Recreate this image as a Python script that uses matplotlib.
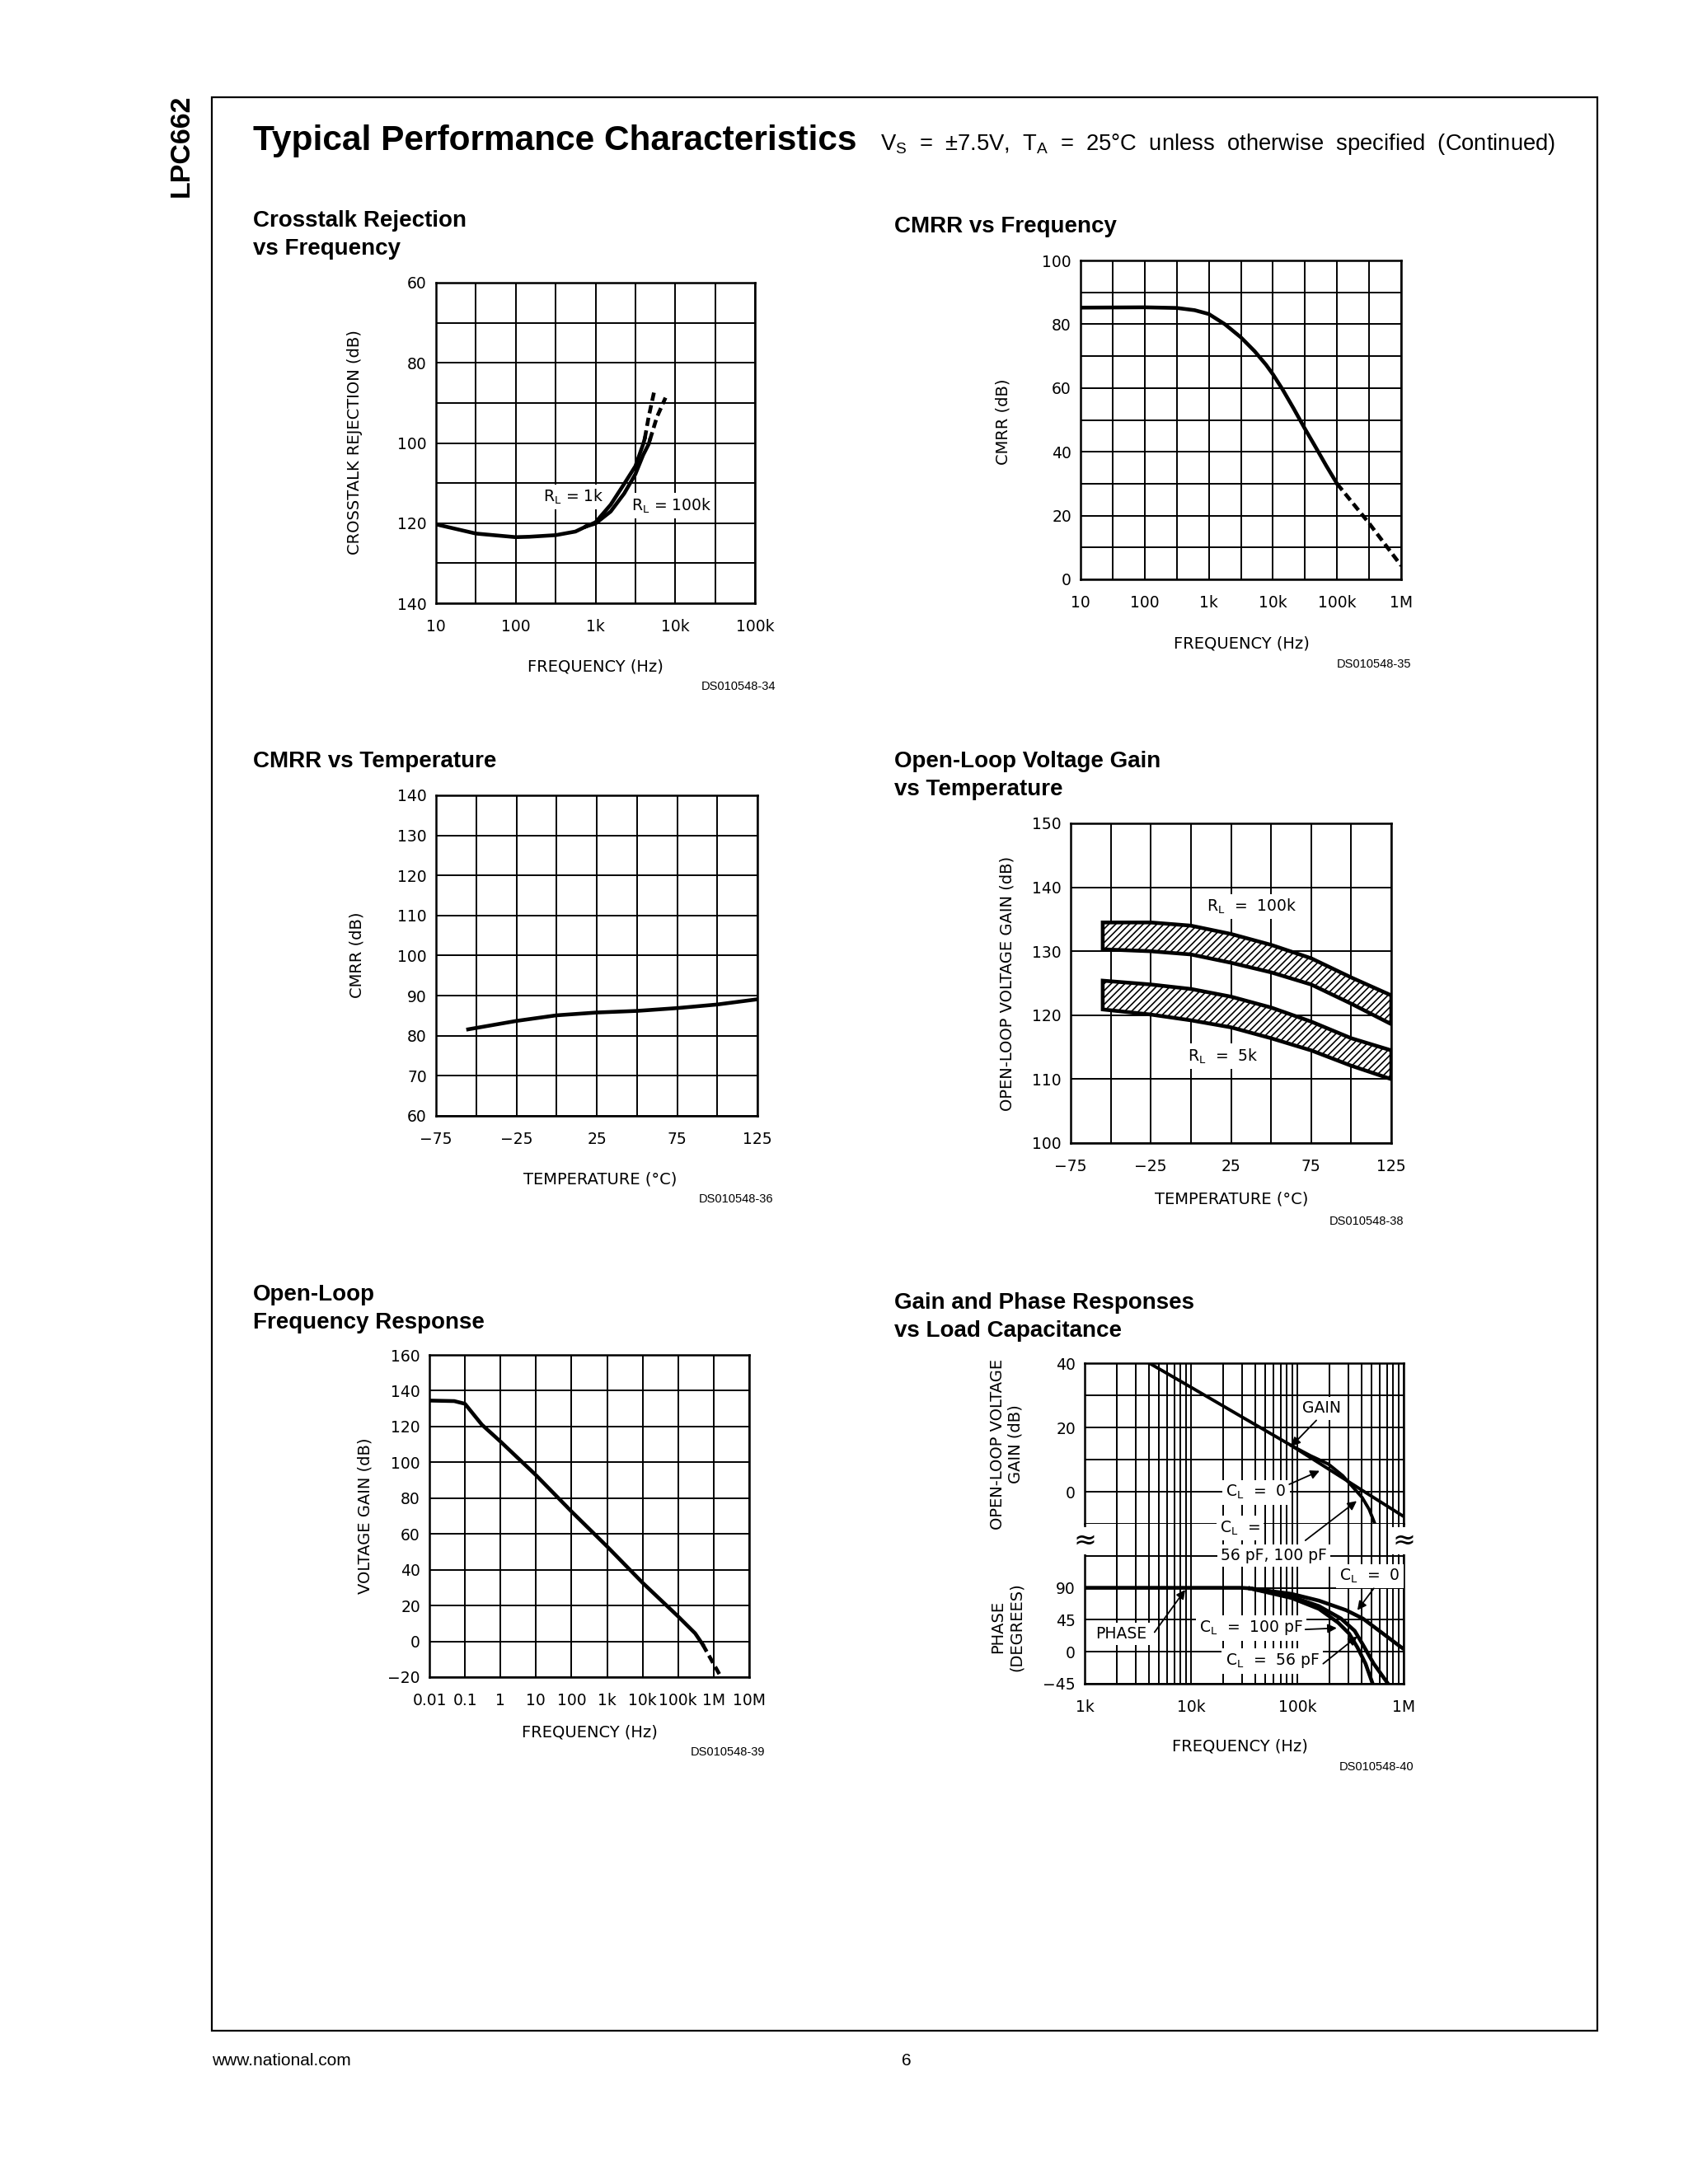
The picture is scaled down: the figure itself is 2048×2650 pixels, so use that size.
import numpy as np
import matplotlib.pyplot as plt
from matplotlib.patches import Rectangle
from matplotlib.ticker import FixedLocator, NullFormatter

plt.rcParams['font.family'] = 'DejaVu Sans'
plt.rcParams['hatch.linewidth'] = 1.2

# ---------------- data ----------------
# Crosstalk rejection vs frequency (dB, axis inverted)
xt_freq_common = [10, 31.6, 100, 148, 316, 560, 766]
xt_rej_common = [120.3, 122.6, 123.5, 123.4, 123.0, 122.1, 120.8]
xt_freq_1k = [766, 1000, 1550, 2290, 3160, 3960, 4150]
xt_rej_1k = [120.8, 119.8, 115.4, 110.2, 105.8, 100.3, 98.9]
xt_freq_1k_ext = [4150, 4640, 5520]
xt_rej_1k_ext = [98.9, 93.5, 86.6]
xt_freq_100k = [766, 1000, 1550, 2290, 3160, 3960, 4640, 4800]
xt_rej_100k = [120.8, 120.1, 117.1, 112.6, 107.8, 103.0, 100.3, 99.3]
xt_freq_100k_ext = [4800, 5900, 7550]
xt_rej_100k_ext = [99.3, 93.5, 88.7]

# CMRR vs frequency
cm_freq = [10, 100, 316, 601, 1000, 1780, 3160, 5200, 7800, 10000, 14100, 21000,
           31600, 45900, 68000, 100000]
cm_db = [85.2, 85.3, 85.1, 84.4, 83.2, 80.0, 75.9, 71.5, 67.3, 64.3, 59.6, 53.6,
         47.2, 41.6, 35.6, 30.0]
cm_freq_ext = [100000, 316000, 1000000]
cm_db_ext = [30.0, 17.6, 4.3]

# CMRR vs temperature
ct_temp = [-55, -25, 0, 25, 50, 75, 100, 125]
ct_db = [81.6, 83.7, 85.1, 85.8, 86.2, 86.9, 87.8, 89.1]

# Open-loop voltage gain vs temperature (bands)
ol_temp = [-55, -25, 0, 25, 50, 75, 100, 125]
ol_100k_hi = [134.5, 134.5, 134.0, 132.7, 131.0, 128.9, 125.9, 123.1]
ol_100k_lo = [130.3, 130.0, 129.5, 128.2, 126.7, 124.8, 121.8, 118.6]
ol_5k_hi = [125.4, 124.8, 124.1, 122.9, 121.2, 119.0, 116.4, 114.5]
ol_5k_lo = [120.9, 120.1, 119.2, 118.1, 116.4, 114.5, 112.1, 110.0]

# Open-loop frequency response
of_freq = [0.01, 0.05, 0.1, 0.3, 1, 10, 100, 1000, 10000, 100000, 300000, 489000]
of_gain = [134.5, 134.2, 132.7, 121.0, 111.6, 92.8, 72.5, 53.0, 32.7, 13.9, 4.5, -1.7]
of_freq_ext = [489000, 1580000]
of_gain_ext = [-1.7, -19.7]

# Gain and phase vs load capacitance
gp_freq_g0 = [4050, 10000, 30000, 87500, 200000, 400000, 1000000]
gp_gain_g0 = [40, 32.5, 23.3, 14.4, 6.9, 0.6, -7.7]
gp_freq_gc = [87500, 133000, 196000, 267000, 336000, 407000, 474000, 532000]
gp_gain_gc = [14.4, 11.2, 8.6, 5.0, 1.3, -1.8, -5.5, -9.7]
gp_freq_flat = [1000, 10000, 30000, 36000]
gp_ph_flat = [90, 90, 90, 89.2]
gp_freq_p0 = [36000, 88000, 160000, 289000, 413000, 590000, 949000, 1000000]
gp_ph_p0 = [89.2, 81.5, 71.9, 58.4, 46.8, 29.5, 6.3, 4.0]
gp_freq_p56 = [36000, 88000, 160000, 257000, 346000, 413000, 523000, 704000]
gp_ph_p56 = [89.2, 77.7, 64.2, 46.8, 29.5, 10.2, -16.8, -43.8]
gp_freq_p100 = [36000, 88000, 160000, 242000, 307000, 367000, 438000, 508000]
gp_ph_p100 = [89.2, 75.7, 60.3, 41.0, 25.6, 6.3, -16.8, -43.8]

# tick labels
xt_ticks = [10, 100, 1e3, 1e4, 1e5]
xt_ticklabels = ['10', '100', '1k', '10k', '100k']
cm_ticks = [10, 100, 1e3, 1e4, 1e5, 1e6]
cm_ticklabels = ['10', '100', '1k', '10k', '100k', '1M']
temp_ticks = [-75, -25, 25, 75, 125]
temp_ticklabels = ['\u221275', '\u221225', '25', '75', '125']
of_ticks = [0.01, 0.1, 1, 10, 100, 1e3, 1e4, 1e5, 1e6, 1e7]
of_ticklabels = ['0.01', '0.1', '1', '10', '100', '1k', '10k', '100k', '1M', '10M']
gp_ticks = [1e3, 1e4, 1e5, 1e6]
gp_ticklabels = ['1k', '10k', '100k', '1M']

# ---------------- page ----------------
W, H = 2048, 2650
fig = plt.figure(figsize=(W / 100, H / 100), dpi=100)

def fx(x):
    return x / W

def fy(y):
    return 1 - y / H

def px_box(x0, y0, x1, y1):
    return [x0 / W, 1 - y1 / H, (x1 - x0) / W, (y1 - y0) / H]

GRID_LW = 1.4
CURVE_LW = 3.3
TICK_FS = 13.5
LABEL_FS = 14
WHITE = dict(facecolor='white', edgecolor='none', pad=3)

def make_axes(box):
    ax = fig.add_axes(px_box(*box))
    for s in ax.spines.values():
        s.set_linewidth(1.8)
    ax.tick_params(which='both', length=0, labelsize=TICK_FS)
    ax.tick_params(axis='x', pad=14)
    ax.tick_params(axis='y', pad=8)
    ax.grid(True, which='both', color='black', lw=GRID_LW)
    ax.set_axisbelow(True)
    return ax

def half_decades(lo, hi):
    return [10 ** (k + 0.5) for k in range(int(np.log10(lo)), int(np.log10(hi)))]

fig.add_artist(Rectangle((fx(257), fy(2464)), fx(1938) - fx(257), fy(118) - fy(2464),
                         transform=fig.transFigure, fill=False, lw=1.6, color='black'))
fig.text(fx(220), fy(177), 'LPC662', rotation=90, weight='bold', fontsize=24.5,
         family='Liberation Sans', ha='center', va='center')
fig.text(fx(307), fy(182), 'Typical Performance Characteristics', weight='bold',
         fontsize=30.5, family='Liberation Sans', va='baseline')
fig.text(fx(1068), fy(182),
         r'V$_\mathregular{S}$  =  ±7.5V,  T$_\mathregular{A}$  =  25°C  unless  otherwise  specified  (Continued)',
         fontsize=19.7, family='Liberation Sans', va='baseline')
fig.text(fx(257), fy(2500), 'www.national.com', fontsize=15, family='Liberation Sans', va='center')
fig.text(fx(1100), fy(2500), '6', fontsize=15, family='Liberation Sans', va='center', ha='center')

def title(x, y, s):
    fig.text(fx(x), fy(y + 5), s, weight='bold', fontsize=20, family='Liberation Sans',
             va='top', linespacing=1.38)

def ds(x, y, s):
    fig.text(fx(x), fy(y), s, fontsize=10.5, family='Liberation Sans', ha='right', va='center')

def xlab(x, y, s):
    fig.text(fx(x), fy(y), s, fontsize=LABEL_FS, ha='center', va='center')

def ylab(x, y, s):
    fig.text(fx(x), fy(y), s, fontsize=LABEL_FS, ha='center', va='center', rotation=90,
             multialignment='center', linespacing=1.2)

# ---------------- Crosstalk rejection ----------------
title(307, 250, 'Crosstalk Rejection\nvs Frequency')
ax = make_axes((529, 343, 916, 732))
ax.set_xscale('log')
ax.set_xlim(10, 1e5)
ax.set_ylim(140, 60)
ax.xaxis.set_major_locator(FixedLocator(xt_ticks))
ax.set_xticklabels(xt_ticklabels)
ax.xaxis.set_minor_locator(FixedLocator(half_decades(10, 1e5)))
ax.xaxis.set_minor_formatter(NullFormatter())
ax.set_yticks([60, 80, 100, 120, 140])
ax.yaxis.set_minor_locator(FixedLocator([70, 90, 110, 130]))
ax.plot(xt_freq_common, xt_rej_common, color='k', lw=CURVE_LW, zorder=4)
ax.plot(xt_freq_1k, xt_rej_1k, color='k', lw=CURVE_LW, zorder=4)
ax.plot(xt_freq_1k_ext, xt_rej_1k_ext, color='k', lw=CURVE_LW, ls=(0, (2.2, 1.2)), zorder=4)
ax.plot(xt_freq_100k, xt_rej_100k, color='k', lw=CURVE_LW, zorder=4)
ax.plot(xt_freq_100k_ext, xt_rej_100k_ext, color='k', lw=CURVE_LW, ls=(0, (2.2, 1.2)), zorder=4)
ax.text(221, 113.5, r'R$_\mathregular{L}$ = 1k', fontsize=TICK_FS, ha='left', va='center',
        bbox=WHITE, zorder=3)
ax.text(2786, 115.6, r'R$_\mathregular{L}$ = 100k', fontsize=TICK_FS, ha='left', va='center',
        bbox=WHITE, zorder=3)
xlab(722, 809, 'FREQUENCY (Hz)')
ylab(431, 537, 'CROSSTALK REJECTION (dB)')
ds(941, 833, 'DS010548-34')

# ---------------- CMRR vs frequency ----------------
title(1085, 257, 'CMRR vs Frequency')
ax = make_axes((1311, 316, 1700, 703))
ax.set_xscale('log')
ax.set_xlim(10, 1e6)
ax.set_ylim(0, 100)
ax.xaxis.set_major_locator(FixedLocator(cm_ticks))
ax.set_xticklabels(cm_ticklabels)
ax.xaxis.set_minor_locator(FixedLocator(half_decades(10, 1e6)))
ax.xaxis.set_minor_formatter(NullFormatter())
ax.set_yticks([0, 20, 40, 60, 80, 100])
ax.yaxis.set_minor_locator(FixedLocator([10, 30, 50, 70, 90]))
ax.plot(cm_freq, cm_db, color='k', lw=CURVE_LW, zorder=4)
ax.plot(cm_freq_ext, cm_db_ext, color='k', lw=CURVE_LW, ls=(0, (2.2, 1.2)), zorder=4)
xlab(1506, 781, 'FREQUENCY (Hz)')
ylab(1217, 512, 'CMRR (dB)')
ds(1712, 806, 'DS010548-35')

# ---------------- CMRR vs temperature ----------------
title(307, 906, 'CMRR vs Temperature')
ax = make_axes((529, 965, 919, 1354))
ax.set_xlim(-75, 125)
ax.set_ylim(60, 140)
ax.set_xticks(temp_ticks)
ax.set_xticklabels(temp_ticklabels)
ax.xaxis.set_minor_locator(FixedLocator([-50, 0, 50, 100]))
ax.set_yticks(list(range(60, 141, 10)))
ax.plot(ct_temp, ct_db, color='k', lw=CURVE_LW, zorder=4)
xlab(728, 1431, 'TEMPERATURE (°C)')
ylab(433, 1159, 'CMRR (dB)')
ds(938, 1455, 'DS010548-36')

# ---------------- Open-loop gain vs temperature ----------------
title(1085, 906, 'Open-Loop Voltage Gain\nvs Temperature')
ax = make_axes((1299, 999, 1688, 1387))
ax.set_xlim(-75, 125)
ax.set_ylim(100, 150)
ax.set_xticks(temp_ticks)
ax.set_xticklabels(temp_ticklabels)
ax.xaxis.set_minor_locator(FixedLocator([-50, 0, 50, 100]))
ax.set_yticks(list(range(100, 151, 10)))
for hi, lo in [(ol_100k_hi, ol_100k_lo), (ol_5k_hi, ol_5k_lo)]:
    ax.fill_between(ol_temp, lo, hi, facecolor='white', edgecolor='black', hatch='////',
                    lw=0, zorder=3)
    ax.fill(np.concatenate([ol_temp, ol_temp[::-1]]), np.concatenate([hi, lo[::-1]]),
            facecolor='none', edgecolor='black', lw=3.3, zorder=4, joinstyle='miter')
ax.text(9.9, 137, r'R$_\mathregular{L}$  =  100k', fontsize=TICK_FS, ha='left', va='center',
        bbox=WHITE, zorder=3)
ax.text(-1.8, 113.6, r'R$_\mathregular{L}$  =  5k', fontsize=TICK_FS, ha='left', va='center',
        bbox=WHITE, zorder=3)
xlab(1494, 1455, 'TEMPERATURE (°C)')
ylab(1222, 1193, 'OPEN-LOOP VOLTAGE GAIN (dB)')
ds(1703, 1482, 'DS010548-38')

# ---------------- Open-loop frequency response ----------------
title(307, 1553, 'Open-Loop\nFrequency Response')
ax = make_axes((521, 1644, 909, 2035))
ax.set_xscale('log')
ax.set_xlim(0.01, 1e7)
ax.set_ylim(-20, 160)
ax.xaxis.set_major_locator(FixedLocator(of_ticks))
ax.set_xticklabels(of_ticklabels)
ax.xaxis.set_minor_locator(FixedLocator([]))
ax.set_yticks(list(range(-20, 161, 20)))
ax.set_yticklabels(['\u221220'] + [str(v) for v in range(0, 161, 20)])
ax.plot(of_freq, of_gain, color='k', lw=CURVE_LW, zorder=4)
ax.plot(of_freq_ext, of_gain_ext, color='k', lw=CURVE_LW, ls=(0, (2.2, 1.2)), zorder=4)
xlab(715, 2102, 'FREQUENCY (Hz)')
ylab(443, 1839, 'VOLTAGE GAIN (dB)')
ds(928, 2126, 'DS010548-39')

# ---------------- Gain and phase vs load capacitance ----------------
title(1085, 1563, 'Gain and Phase Responses\nvs Load Capacitance')
minor_all = [m * 10 ** k for k in range(3, 6) for m in range(2, 10)]
axg = make_axes((1316, 1654, 1703, 1849))
axp = make_axes((1316, 1849, 1703, 2043))
for a in (axg, axp):
    a.set_xscale('log')
    a.set_xlim(1e3, 1e6)
    a.xaxis.set_major_locator(FixedLocator(gp_ticks))
    a.xaxis.set_minor_locator(FixedLocator(minor_all))
    a.xaxis.set_minor_formatter(NullFormatter())
axg.spines['bottom'].set_visible(False)
axp.spines['top'].set_visible(False)
axg.set_xticklabels([])
axp.set_xticklabels(gp_ticklabels)
axg.set_ylim(-10, 40)
axg.set_yticks([0, 20, 40])
axg.yaxis.set_minor_locator(FixedLocator([-10, 10, 30]))
axp.set_ylim(-45, 180)
axp.set_yticks([-45, 0, 45, 90])
axp.set_yticklabels(['\u221245', '0', '45', '90'])
axp.yaxis.set_minor_locator(FixedLocator([135]))

axg.plot(gp_freq_g0, gp_gain_g0, color='k', lw=CURVE_LW * 0.85, zorder=4)
axg.plot(gp_freq_gc, gp_gain_gc, color='k', lw=CURVE_LW * 0.85, zorder=4)
axp.plot(gp_freq_flat, gp_ph_flat, color='k', lw=CURVE_LW, zorder=4)
axp.plot(gp_freq_p0, gp_ph_p0, color='k', lw=CURVE_LW, zorder=4)
axp.plot(gp_freq_p56, gp_ph_p56, color='k', lw=CURVE_LW, zorder=4)
axp.plot(gp_freq_p100, gp_ph_p100, color='k', lw=CURVE_LW, zorder=4)

ARROW = dict(arrowstyle='-|>', lw=1.3, color='black', mutation_scale=16, shrinkA=0, shrinkB=0)

def note(a, s, x, y, ha='center'):
    a.text(x, y, s, fontsize=TICK_FS, ha=ha, va='center', bbox=WHITE, zorder=3)

def arrow(a, start, end, end_ax=None):
    tgt = end_ax if end_ax is not None else a
    a.annotate('', xy=end, xycoords=tgt.transData, xytext=start, textcoords=a.transData,
               arrowprops=ARROW, annotation_clip=False, zorder=5)

note(axg, 'GAIN', 168e3, 25.9)
arrow(axg, (151e3, 22.2), (87.5e3, 14.1))
note(axg, r'C$_\mathregular{L}$  =  0', 41e3, -0.2)
arrow(axg, (84e3, 2.3), (162e3, 6.5))

note(axp, r'C$_\mathregular{L}$  =', 18.7e3, 174, ha='left')
note(axp, '56 pF, 100 pF', 18.9e3, 135.5, ha='left')
arrow(axp, (119e3, 156.7), (362e3, -2.9), end_ax=axg)
note(axp, r'C$_\mathregular{L}$  =  0', 479e3, 106.6)
arrow(axp, (524e3, 89.2), (367e3, 58.4))
note(axp, 'PHASE', 2.2e3, 25.6)
arrow(axp, (4.54e3, 27.5), (8.83e3, 87.3))
note(axp, r'C$_\mathregular{L}$  =  100 pF', 36.6e3, 33.3)
arrow(axp, (119e3, 31.4), (235e3, 33.3))
note(axp, r'C$_\mathregular{L}$  =  56 pF', 58.2e3, -13)
arrow(axp, (175e3, -16.8), (367e3, 21.7))
for xf in (0, 1):
    axp.text(xf, 156.7, '\u2248', transform=axp.get_yaxis_transform(), fontsize=24,
             ha='center', va='center', bbox=dict(facecolor='white', edgecolor='none', pad=0),
             zorder=6, clip_on=False)

xlab(1504, 2119, 'FREQUENCY (Hz)')
ylab(1221, 1752, 'OPEN-LOOP VOLTAGE\nGAIN (dB)')
ylab(1222, 1974, 'PHASE\n(DEGREES)')
ds(1715, 2144, 'DS010548-40')

fig.savefig('out.png', dpi=100, facecolor='white')
